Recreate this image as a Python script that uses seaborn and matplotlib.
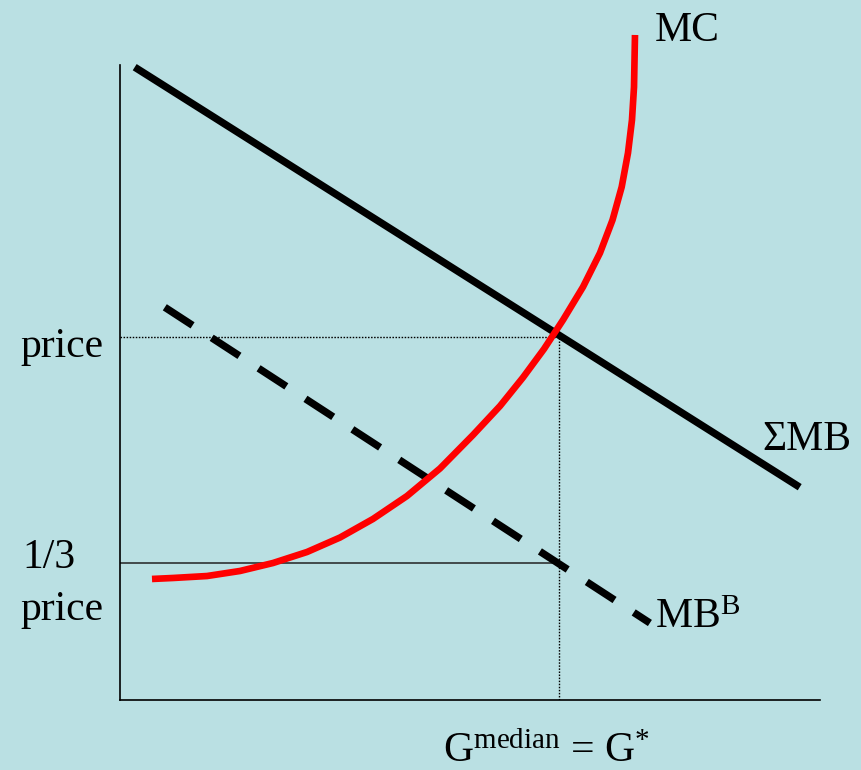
import numpy as np
import pandas as pd
import seaborn as sns
import matplotlib.pyplot as plt

# units: 1 unit of quantity / price on the sketch
mc_quantity = [0.457, 0.757, 1.243, 1.714, 2.186, 2.671, 3.143, 3.614, 4.100, 4.571, 5.043, 5.429,
               5.757, 6.057, 6.329, 6.614, 6.857, 7.036, 7.167, 7.257, 7.314, 7.343, 7.357]
mc_cost = [1.729, 1.743, 1.771, 1.843, 1.957, 2.114, 2.321, 2.586, 2.914, 3.307, 3.786, 4.200,
           4.607, 5.014, 5.429, 5.900, 6.386, 6.857, 7.329, 7.814, 8.286, 8.757, 9.500]

smb_quantity = [0.21, 9.71]
smb_benefit = [9.04, 3.04]

mbb_quantity = [0.64, 7.57]
mbb_benefit = [5.61, 1.10]

price_level = 5.19
third_price = 1.96
g_star = 6.27

BG = "#bae0e3"

sns.set_style("white")
plt.rcParams['font.family'] = ['Liberation Serif', 'DejaVu Serif']
plt.rcParams['text.color'] = 'black'
plt.rcParams['mathtext.fontset'] = 'custom'
plt.rcParams['mathtext.rm'] = 'Liberation Serif'
plt.rcParams['mathtext.it'] = 'Liberation Serif:italic'

fig = plt.figure(figsize=(8.62, 7.7), dpi=100, facecolor=BG)
ax = fig.add_axes([120 / 862, 70 / 770, 700 / 862, 635 / 770])
ax.set_facecolor(BG)
ax.set_xlim(0, 10)
ax.set_ylim(0, 9.071)

# guide lines
ax.plot([0, g_star], [price_level, price_level], color="black", lw=1.0,
        linestyle=(0, (1.1, 1.1)))
ax.plot([g_star, g_star], [0, price_level], color="black", lw=1.0,
        linestyle=(0, (1.1, 1.1)))
ax.plot([0, g_star], [third_price, third_price], color="#222222", lw=1.1)

# curves
sns.lineplot(x=smb_quantity, y=smb_benefit, ax=ax, color="black", lw=5.3,
             sort=False, estimator=None, clip_on=False, solid_capstyle="butt")
sns.lineplot(x=mbb_quantity, y=mbb_benefit, ax=ax, color="black", lw=5.3,
             sort=False, estimator=None, clip_on=False, linestyle=(0, (4.5, 3.1)),
             dash_capstyle="butt")
sns.lineplot(x=mc_quantity, y=mc_cost, ax=ax, color="#ff0000", lw=4.8,
             sort=False, estimator=None, clip_on=False, solid_capstyle="butt",
             solid_joinstyle="round")

for s in ["top", "right"]:
    ax.spines[s].set_visible(False)
for s in ["left", "bottom"]:
    ax.spines[s].set_linewidth(1.2)
    ax.spines[s].set_color("black")
ax.set_xticks([])
ax.set_yticks([])

fs = 30
ax.text(-1.43, 4.90, "price", fontsize=fs, ha="left", va="baseline", clip_on=False)
ax.text(-1.39, 1.886, "1/3", fontsize=fs, ha="left", va="baseline", clip_on=False)
ax.text(-1.43, 1.143, "price", fontsize=fs, ha="left", va="baseline", clip_on=False)
ax.text(7.64, 9.414, "MC", fontsize=fs, ha="left", va="baseline", clip_on=False)
ax.text(9.17, 3.571, "\u03a3MB", fontsize=fs, ha="left", va="baseline", clip_on=False)
ax.text(7.64, 1.029, r"MB$^{\mathrm{B}}$", fontsize=fs, ha="left", va="baseline", clip_on=False)
ax.text(4.61, -0.88, r"G$^{\mathrm{median}}$ = G$^{*}$", fontsize=fs, ha="left",
        va="baseline", clip_on=False)

fig.savefig("out.png", dpi=100, facecolor=BG)
